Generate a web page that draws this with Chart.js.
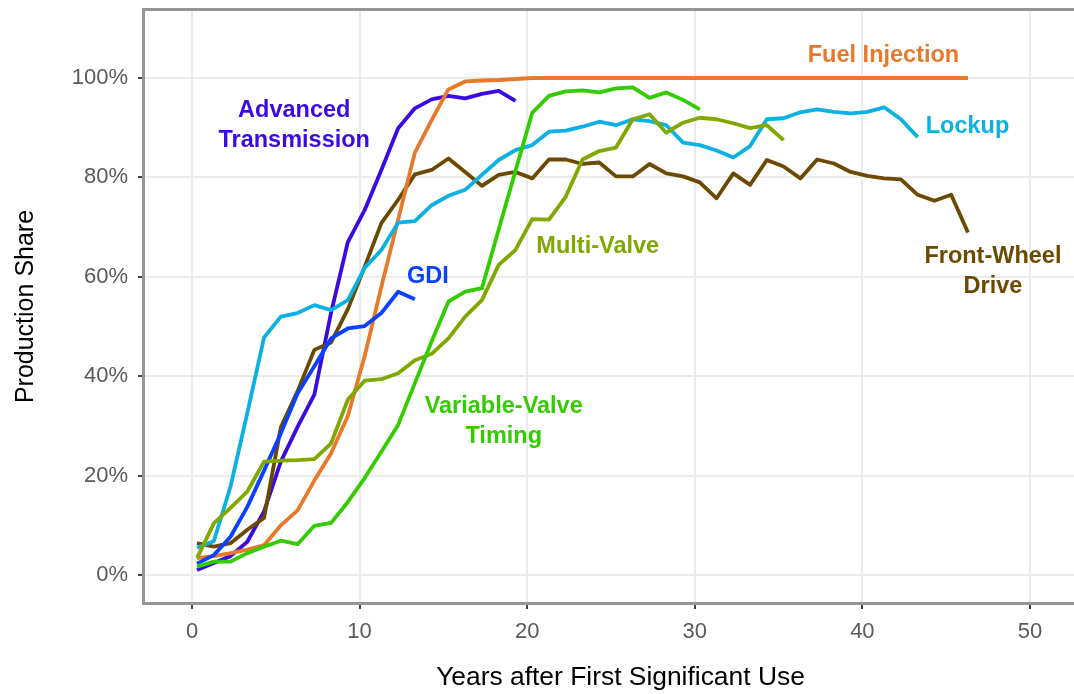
<!DOCTYPE html>
<html>
<head>
<meta charset="utf-8">
<title>Production Share by Years after First Significant Use</title>
<script src="https://cdn.jsdelivr.net/npm/chart.js@4.4.1/dist/chart.umd.min.js"></script>
<style>
  html, body { margin: 0; padding: 0; background: #fff; overflow: hidden; }
  #wrap { width: 1096px; height: 694px; }
</style>
</head>
<body>
<div id="wrap"><canvas id="adoption" width="1096" height="694"></canvas></div>
<script>
// years after first significant use, one sample per model year
const years = [0.3, 1.3, 2.3, 3.3, 4.3, 5.3, 6.3, 7.3, 8.3, 9.3,
  10.3, 11.3, 12.3, 13.3, 14.3, 15.3, 16.3, 17.3, 18.3, 19.3,
  20.3, 21.3, 22.3, 23.3, 24.3, 25.3, 26.3, 27.3, 28.3, 29.3,
  30.3, 31.3, 32.3, 33.3, 34.3, 35.3, 36.3, 37.3, 38.3, 39.3,
  40.3, 41.3, 42.3, 43.3, 44.3, 45.3, 46.3];

// production share, percent
const advancedTransmission = [1.0, 2.4, 3.8, 6.7, 12.8, 22.8, 29.8, 36.3, 52.8, 67.0,
  73.4, 81.5, 89.9, 93.9, 95.7, 96.4, 95.9, 96.8, 97.4, 95.4];
const frontWheelDrive = [6.4, 5.7, 6.4, 9.1, 11.5, 29.7, 37.0, 45.3, 46.8, 53.5,
  62.0, 70.8, 75.5, 80.6, 81.5, 83.8, 81.1, 78.3, 80.5, 81.1,
  79.8, 83.6, 83.6, 82.7, 83.0, 80.2, 80.2, 82.7, 80.8, 80.2,
  79.0, 75.8, 80.8, 78.5, 83.5, 82.2, 79.8, 83.6, 82.8, 81.1,
  80.3, 79.8, 79.6, 76.5, 75.3, 76.5, 68.9];
const fuelInjection = [3.4, 3.8, 4.4, 5.1, 6.0, 10.0, 13.0, 19.0, 24.5, 32.0,
  44.0, 58.0, 71.5, 85.0, 91.5, 97.7, 99.3, 99.5, 99.6, 99.8,
  100, 100, 100, 100, 100, 100, 100, 100, 100, 100,
  100, 100, 100, 100, 100, 100, 100, 100, 100, 100,
  100, 100, 100, 100, 100, 100, 100];
const gdi = [2.3, 4.0, 7.7, 13.7, 21.0, 28.5, 36.5, 42.0, 47.6, 49.6,
  50.1, 52.7, 57.0, 55.5];
const lockup = [5.5, 6.8, 17.8, 32.6, 47.8, 52.0, 52.7, 54.3, 53.3, 55.3,
  61.8, 65.4, 70.9, 71.2, 74.4, 76.3, 77.5, 80.5, 83.5, 85.5,
  86.5, 89.2, 89.4, 90.2, 91.2, 90.5, 91.7, 91.3, 90.5, 87.0,
  86.5, 85.4, 84.0, 86.3, 91.7, 91.9, 93.1, 93.7, 93.2, 92.9,
  93.2, 94.1, 91.7, 88.1];
const multiValve = [3.4, 10.4, 13.5, 16.8, 22.8, 23.0, 23.1, 23.3, 26.5, 35.3,
  39.1, 39.4, 40.6, 43.2, 44.5, 47.6, 52.0, 55.3, 62.4, 65.4,
  71.6, 71.5, 76.1, 83.6, 85.3, 86.0, 91.7, 92.7, 89.0, 91.0,
  92.0, 91.7, 90.9, 89.9, 90.5, 87.5];
const variableValveTiming = [1.7, 2.7, 2.7, 4.4, 5.7, 6.9, 6.2, 9.9, 10.5, 14.7,
  19.5, 24.8, 30.2, 38.6, 47.0, 55.0, 57.0, 57.7, 69.5, 81.3,
  93.0, 96.4, 97.3, 97.5, 97.1, 97.9, 98.1, 96.0, 97.1, 95.6,
  93.7];

const xTicks = [0, 10, 20, 30, 40, 50];
const yTicks = [0, 20, 40, 60, 80, 100];

const FONT = '"Liberation Sans", Arial, Helvetica, sans-serif';

// drawn in this order, later entries on top
const series = [
  { name: 'Advanced Transmission', values: advancedTransmission, color: '#3a0ae3' },
  { name: 'Front-Wheel Drive', values: frontWheelDrive, color: '#6b4a00' },
  { name: 'Fuel Injection', values: fuelInjection, color: '#e8782a' },
  { name: 'GDI', values: gdi, color: '#0a40ff' },
  { name: 'Lockup', values: lockup, color: '#0ab1e2' },
  { name: 'Multi-Valve', values: multiValve, color: '#80a800' },
  { name: 'Variable-Valve Timing', values: variableValveTiming, color: '#33cc00' }
];

// direct labels, placed in data units
const seriesLabels = [
  { lines: ['Advanced', 'Transmission'], x: 6.1, y: 90.5, color: '#3a0ae3' },
  { lines: ['GDI'], x: 14.07, y: 60.0, color: '#0a40ff' },
  { lines: ['Fuel Injection'], x: 41.26, y: 104.6, color: '#e8782a' },
  { lines: ['Lockup'], x: 46.27, y: 90.3, color: '#0ab1e2' },
  { lines: ['Multi-Valve'], x: 24.21, y: 66.1, color: '#80a800' },
  { lines: ['Front-Wheel', 'Drive'], x: 47.79, y: 61.0, color: '#6b4a00' },
  { lines: ['Variable-Valve', 'Timing'], x: 18.6, y: 30.8, color: '#33cc00' }
];

const datasets = series.map((s, i) => ({
  label: s.name,
  data: s.values.map((v, k) => ({ x: years[k], y: v })),
  borderColor: s.color,
  backgroundColor: s.color,
  borderWidth: 3.8,
  borderJoinStyle: 'round',
  pointRadius: 0,
  tension: 0,
  fill: false,
  order: series.length - i
}));

// panel frame: left, top and bottom rules
const framePlugin = {
  id: 'frame',
  afterDatasetsDraw(chart) {
    const { ctx, chartArea: a } = chart;
    ctx.save();
    ctx.strokeStyle = '#959595';
    ctx.lineWidth = 3;
    ctx.beginPath();
    ctx.moveTo(chart.width, a.top - 1.5);
    ctx.lineTo(a.left - 1.5, a.top - 1.5);
    ctx.lineTo(a.left - 1.5, a.bottom + 1.5);
    ctx.lineTo(chart.width, a.bottom + 1.5);
    ctx.stroke();
    ctx.restore();
  }
};

const labelPlugin = {
  id: 'seriesLabels',
  afterDatasetsDraw(chart) {
    const { ctx, scales: { x, y } } = chart;
    ctx.save();
    ctx.font = 'bold 23.5px ' + FONT;
    ctx.textAlign = 'center';
    ctx.textBaseline = 'middle';
    seriesLabels.forEach(l => {
      const cx = x.getPixelForValue(l.x);
      const cy = y.getPixelForValue(l.y);
      const top = cy - (l.lines.length - 1) * 15;
      ctx.fillStyle = l.color;
      l.lines.forEach((t, i) => ctx.fillText(t, cx, top + i * 30));
    });
    ctx.restore();
  }
};

new Chart(document.getElementById('adoption'), {
  type: 'line',
  data: { datasets },
  plugins: [framePlugin, labelPlugin],
  options: {
    responsive: false,
    animation: false,
    devicePixelRatio: 1,
    layout: { autoPadding: false, padding: { top: 11, left: 0, right: 0, bottom: 0 } },
    plugins: { legend: { display: false }, tooltip: { enabled: false } },
    scales: {
      x: {
        type: 'linear',
        min: -2.804,
        max: 53.94,
        afterFit: s => { s.height = 92; s.paddingLeft = 0; s.paddingRight = 0; },
        afterBuildTicks: s => { s.ticks = xTicks.map(v => ({ value: v })); },
        grid: { color: '#ebebeb', lineWidth: 2, tickLength: 7, tickColor: '#444', tickWidth: 2 },
        border: { display: false },
        ticks: { color: '#5a5a5a', font: { family: FONT, size: 22 }, padding: 10, maxRotation: 0 },
        title: {
          display: true,
          text: 'Years after First Significant Use',
          color: '#000',
          font: { family: FONT, size: 26.4 },
          padding: { top: 0, bottom: 0 }
        }
      },
      y: {
        min: -5.43,
        max: 113.48,
        afterFit: s => { s.width = 145; s.paddingTop = 0; s.paddingBottom = 0; },
        afterBuildTicks: s => { s.ticks = yTicks.map(v => ({ value: v })); },
        grid: { color: '#ebebeb', lineWidth: 2, tickLength: 7, tickColor: '#444', tickWidth: 2 },
        border: { display: false },
        ticks: {
          color: '#5a5a5a',
          font: { family: FONT, size: 22 },
          padding: 10,
          callback: v => v + '%'
        },
        title: {
          display: true,
          text: 'Production Share',
          color: '#000',
          font: { family: FONT, size: 25 },
          padding: { top: 11, bottom: 0 }
        }
      }
    }
  }
});
</script>
</body>
</html>
